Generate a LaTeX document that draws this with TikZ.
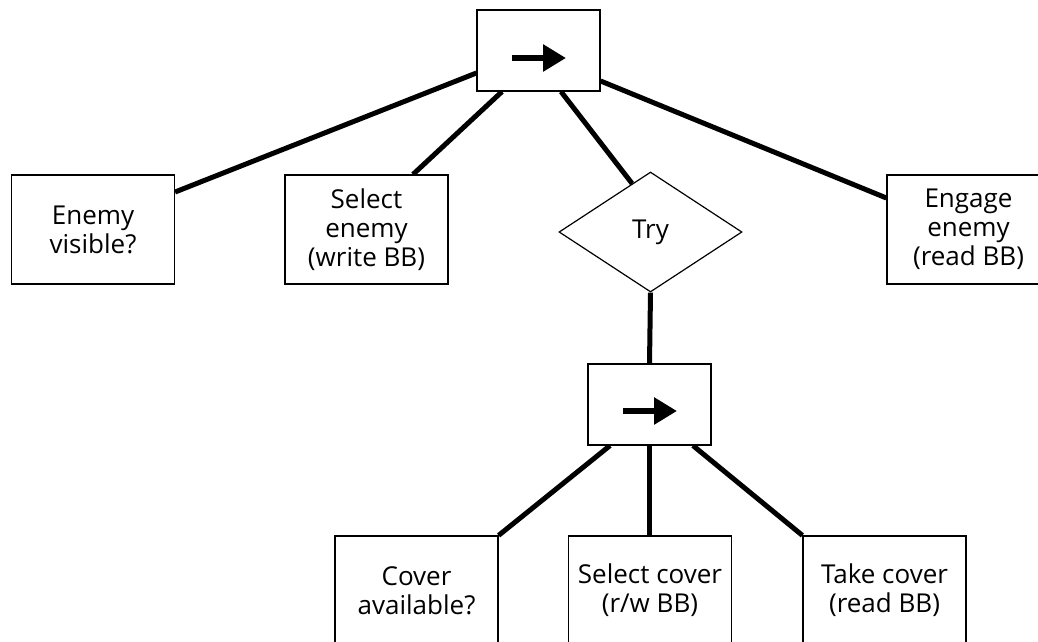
\documentclass[tikz,border=0pt]{standalone}
\usepackage{fontspec}
\setmainfont{Open Sans}
\usetikzlibrary{shapes.geometric,arrows.meta,calc,backgrounds}

\tikzset{
  task/.style={draw=black, line width=1.2pt, fill=white, inner sep=0pt,
    minimum width=163pt, minimum height=109pt, align=center,
    font=\fontsize{26}{29}\selectfont},
  seqbox/.style={draw=black, line width=1.2pt, fill=white, inner sep=0pt,
    minimum width=123pt, minimum height=81pt},
  trybox/.style={draw=black, line width=1.2pt, fill=white, shape=diamond,
    inner sep=0pt, minimum width=183pt, minimum height=120pt,
    font=\fontsize{26}{29}\selectfont},
  link/.style={line width=5pt},
  seqarrow/.style={line width=6pt, -{Triangle[length=23pt,width=26pt]}}
}

\begin{document}
\begin{tikzpicture}[x=1pt,y=-1pt]
  \useasboundingbox (0,0) rectangle (1038,641);
  \clip (0,0) rectangle (1038,641);

  % upper sequence and its children
  \node[seqbox] (top) at (538.5,50.5) {};
  \node[task] (enemy) at (93,229.5) {Enemy\\visible?};
  \node[task] (selenemy) at (366.5,229.5) {Select\\enemy\\(write BB)};
  \node[trybox] (try) at (650.5,232) {Try};
  \node[task] (engage) at (968.5,229.5) {Engage\\enemy\\(read BB)};

  % lower sequence and its children
  \node[seqbox] (lower) at (649.5,404.5) {};
  \node[task] (cover) at (416.5,590.5) {Cover\\available?};
  \node[task] (selcover) at (650,590.5) {Select cover\\(r/w BB)};
  \node[task] (takecover) at (884.5,590.5) {Take cover\\(read BB)};

  % sequence symbols
  \draw[seqarrow] ([xshift=-26.5pt,yshift=-7.5pt]top.center)
               -- ([xshift=27.5pt,yshift=-7.5pt]top.center);
  \draw[seqarrow] ([xshift=-26.5pt,yshift=-6.5pt]lower.center)
               -- ([xshift=27.5pt,yshift=-6.5pt]lower.center);

  % tree edges
  \begin{scope}[on background layer]
    \draw[link] ([yshift=-22.5pt]top.west) -- ([yshift=37.5pt]enemy.east);
    \draw[link] ([xshift=-36.5pt]top.south) -- ([xshift=46.5pt]selenemy.north);
    \draw[link] ([xshift=22.5pt]top.south) -- ($(try.west)!0.8!(try.north)$);
    \draw[link] ([yshift=-30.5pt]top.east) -- ([yshift=31.5pt]engage.west);
    \draw[link] (try.south) -- (lower.north);
    \draw[link] ([xshift=-39.5pt]lower.south) -- (cover.north east);
    \draw[link] (lower.south) -- (lower.south |- selcover.north);
    \draw[link] ([xshift=43.5pt]lower.south) -- (takecover.north west);
  \end{scope}
\end{tikzpicture}
\end{document}
